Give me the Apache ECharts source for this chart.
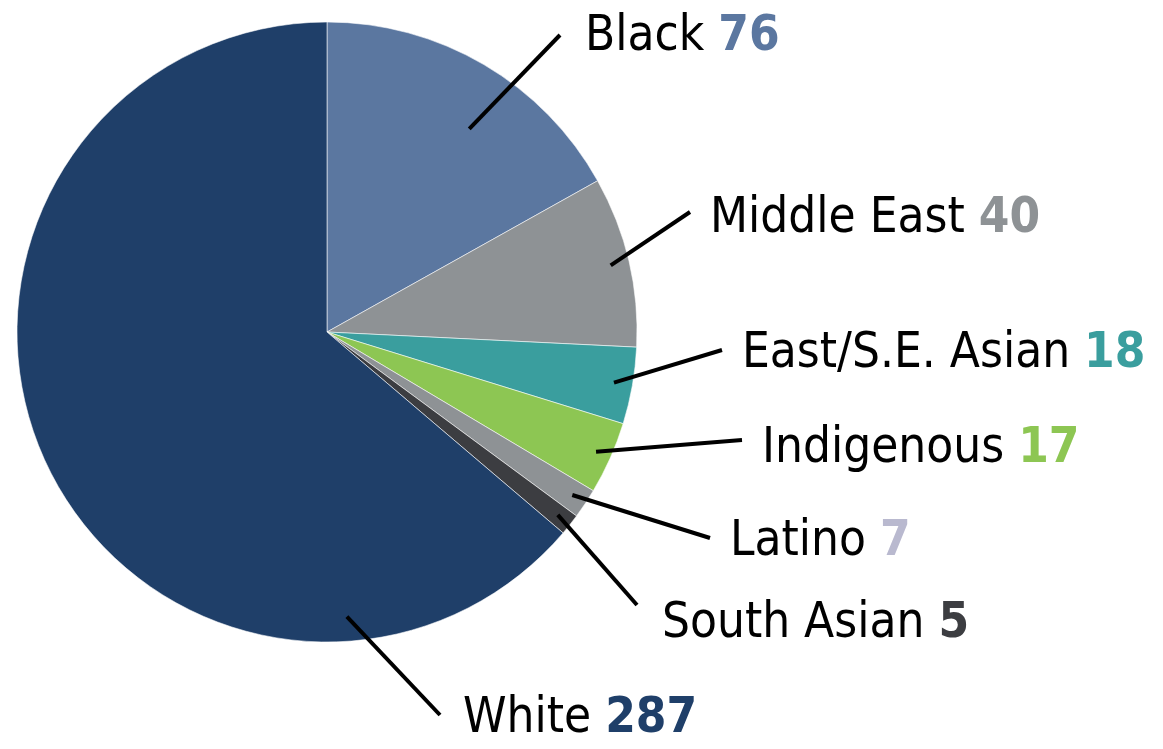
<!DOCTYPE html>
<html>
<head>
<meta charset="utf-8">
<script src="https://cdn.jsdelivr.net/npm/echarts@6/dist/echarts.min.js"></script>
<style>
  html,body{margin:0;padding:0;background:#fff;}
  #chart{width:1163px;height:749px;}
</style>
</head>
<body>
<div id="chart"></div>
<script>
// ---- data ----
const categories = ['Black','Middle East','East/S.E. Asian','Indigenous','Latino','South Asian','White'];
const values = [76, 40, 18, 17, 7, 5, 287];
const sliceColors = ['#5B77A0','#8E9295','#3A9E9E','#8DC653','#8E9295','#3C3D41','#1F3F69'];
const valueColors = ['#5B77A0','#8E9295','#3A9E9E','#8DC653','#B9B9CF','#3C3D41','#1F3F69'];

// ---- layout of labels / leader lines ----
const CX = 327, CY = 332, R = 310;
const labelAt = [[585,37],[710,219],[742,354],[762,449],[730,542],[662,624],[463,719]];
const lineEnd = [[560,35],[690,212],[722,350],[742,440],[710,538],[637,605],[440,715]];
const lineFrom = [0.8, 0.94, 0.94, 0.95, 0.95, 0.95, 0.92];
const lineAngle = [35, null, null, null, null, null, 176]; // override (deg from 12 o'clock)

const FONT = '"Liberation Sans Narrow","DejaVu Sans Condensed","Roboto Condensed",sans-serif';
const FS = 49;
const total = values.reduce((a,b)=>a+b, 0);

function midAngle(i){
  if (lineAngle[i] != null) return lineAngle[i];
  let before = 0;
  for (let k=0;k<i;k++) before += values[k];
  return (before + values[i]/2) / total * 360;
}

const base = {
  type:'pie',
  center:[CX, CY],
  radius:[0, R],
  startAngle:90,
  clockwise:true,
  avoidLabelOverlap:false,
  emphasis:{ disabled:true },
  silent:true
};

const chart = echarts.init(document.getElementById('chart'));
chart.setOption({
  animation:false,
  series:[
    // slices
    Object.assign({}, base, {
      z:1,
      itemStyle:{ borderColor:'rgba(255,255,255,0.7)', borderWidth:0.8 },
      label:{ show:false }, labelLine:{ show:false },
      data: categories.map((c,i)=>({ name:c, value:values[i], itemStyle:{ color:sliceColors[i] } }))
    }),
    // labels + leader lines drawn above the slices
    Object.assign({}, base, {
      z:5,
      itemStyle:{ color:'rgba(0,0,0,0)', borderWidth:0 },
      label:{
        show:true, position:'outside',
        formatter:'{n|{b}} {v|{c}}',
        fontFamily:FONT, fontSize:FS
      },
      labelLine:{ show:true, showAbove:true, length:20, length2:20, smooth:false, lineStyle:{ color:'#000', width:4 } },
      labelLayout:(p)=>{
        const i = p.dataIndex;
        const a = midAngle(i) * Math.PI / 180;
        const r = R * lineFrom[i];
        const sx = CX + r*Math.sin(a), sy = CY - r*Math.cos(a);
        return {
          x: labelAt[i][0], y: labelAt[i][1],
          align:'left', verticalAlign:'middle',
          labelLinePoints:[[sx, sy], lineEnd[i]]
        };
      },
      data: categories.map((c,i)=>({
        name:c, value:values[i],
        label:{ rich:{
          n:{ fontFamily:FONT, fontSize:FS, color:'#000' },
          v:{ fontFamily:FONT, fontSize:FS, fontWeight:'bold', color:valueColors[i] }
        }}
      }))
    })
  ]
});
</script>
</body>
</html>
